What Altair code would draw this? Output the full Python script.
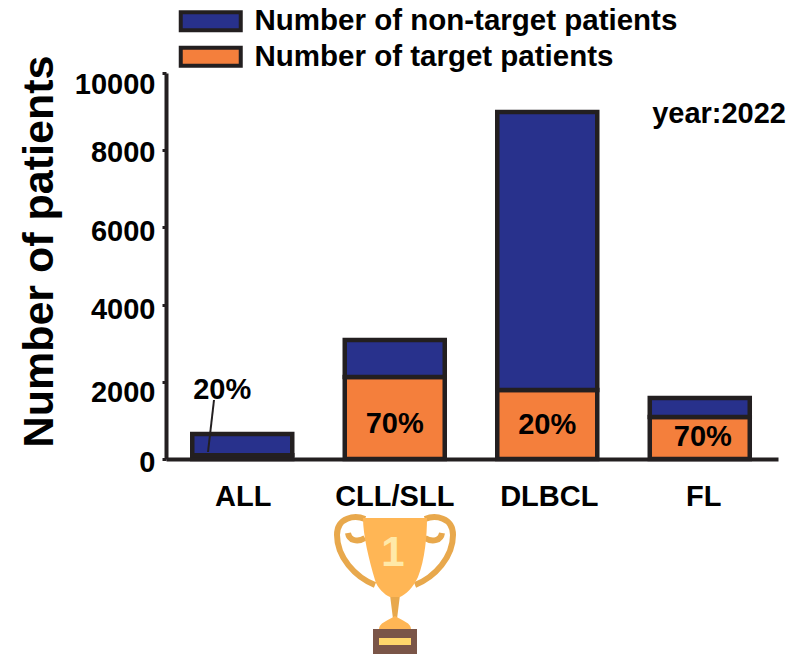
import altair as alt
import pandas as pd

diseases = ["ALL", "CLL/SLL", "DLBCL", "FL"]
target = [100, 2125, 1790, 1090]
non_target = [548, 958, 7200, 490]
label_text = ["20%", "70%", "20%", "70%"]
label_y = [1788, 905, 885, 570]
label_dx = [-20, 0, 0, 3]
y_ticks = [0, 2000, 4000, 6000, 8000, 10000]
series = ["Number of non-target patients", "Number of target patients"]
colors = ["#28318C", "#F47F3C"]
INK = "#231F20"
FONT = "Liberation Sans"

rows = []
for i, d in enumerate(diseases):
    rows.append({"d": d, "s": series[1], "v": target[i], "o": 0})
    rows.append({"d": d, "s": series[0], "v": non_target[i], "o": 1})
bars_df = pd.DataFrame(rows)
labels_df = pd.DataFrame({"d": diseases, "t": label_text, "y": label_y, "dx": label_dx})

x_scale = alt.Scale(domain=diseases, paddingInner=0, paddingOuter=0.0065, align=0)
y_scale = alt.Scale(domain=[0, 10000], nice=False)

y_offset = alt.expr("datum.value==10000||datum.value==2000?11:datum.value==8000?2:datum.value==0?3:datum.value==6000?4:5")
x_offset = alt.expr("datum.value=='FL'?4:datum.value=='DLBCL'?2:datum.value=='ALL'?1:0")

bars = alt.Chart(bars_df).mark_bar(size=100, stroke=INK, strokeWidth=4.5).encode(
    x=alt.X("d:N", scale=x_scale, sort=diseases, title=None,
            axis=alt.Axis(labelAngle=0, labelFont=FONT, labelFontWeight="bold", labelFontSize=29,
                          labelColor="#000", labelPadding=23, ticks=False, domainWidth=4, domainColor=INK, grid=False,
                          labelOffset=x_offset)),
    y=alt.Y("v:Q", stack="zero", scale=y_scale, title="Number of patients",
            axis=alt.Axis(values=y_ticks, format="d", labelFont=FONT, labelFontWeight="bold",
                          labelFontSize=29, labelColor="#000", tickColor=INK, tickWidth=3, tickSize=4,
                          labelPadding=7, domainWidth=4, domainColor=INK, grid=False,
                          labelOffset=y_offset,
                          titleFont=FONT, titleFontWeight="bold", titleFontSize=43, titleColor="#000",
                          titleX=-114, titleY=178, titleBaseline="alphabetic")),
    color=alt.Color("s:N", scale=alt.Scale(domain=series, range=colors),
                    legend=alt.Legend(title=None, orient="none", legendX=30, legendY=-66.5, padding=0,
                                      symbolType="M-30,-9 H30 V9 H-30Z", symbolSize=4,
                                      symbolStrokeColor=INK, symbolStrokeWidth=4, symbolOpacity=1,
                                      labelFont=FONT, labelFontWeight="bold", labelFontSize=29.5, labelColor="#000",
                                      labelOffset=29, labelLimit=600, rowPadding=0.5)),
    order=alt.Order("o:Q"),
)

label_layers = [
    alt.Chart(labels_df[labels_df.d == d]).mark_text(font=FONT, fontWeight="bold", fontSize=29, color="#000", dx=dx).encode(
        x=alt.X("d:N", scale=x_scale, sort=diseases), y=alt.Y("y:Q", scale=y_scale), text="t:N")
    for d, dx in zip(diseases, label_dx)
]

leader = alt.Chart(pd.DataFrame({"a": [0]})).mark_rule(color=INK, strokeWidth=2).encode(
    x=alt.value(48), x2=alt.value(42), y=alt.value(327), y2=alt.value(379))

year = alt.Chart(pd.DataFrame({"t": ["year:2022"]})).mark_text(
    font=FONT, fontWeight="bold", fontSize=29, color="#000", align="right").encode(
    x=alt.value(620), y=alt.value(41), text="t:N")

CUP = "M-32,-67 L32,-67 C32,-50 30,-25 23,-8 C18,3 10,10 5,12 L-5,12 C-10,10 -18,3 -20,-5 C-26,-25 -32,-50 -32,-67Z"
HANDLES = ("M30,-66 C40,-70 58,-68 58,-50 C58,-28 40,-8 20,0 "
           "M47,-52 C46,-45 38,-42 30,-47 "
           "M-30,-66 C-40,-70 -58,-68 -58,-50 C-58,-28 -40,-8 -20,0 "
           "M-47,-52 C-46,-45 -38,-42 -30,-47")
STEM = "M-5,10 L5,10 L2,34 L-2,34Z"
DOME = "M-16,44 C-16,38 -8,36 0,31 C8,36 16,38 16,44Z"
BOX = "M-22,44 H22 V72 H-22Z"
PLATE = "M-16,53 H16 V60 H-16Z"
TX, TY = 229, 512
one = alt.Chart(pd.DataFrame({"a": [0]}))

def piece(path, fill=None, stroke=None, sw=0):
    kw = dict(shape=path, size=4, opacity=1)
    if fill:
        kw.update(filled=True, fill=fill, strokeWidth=0)
    else:
        kw.update(filled=False, stroke=stroke, strokeWidth=sw)
    return one.mark_point(**kw).encode(x=alt.value(TX), y=alt.value(TY))

trophy = [
    piece(HANDLES, stroke="#E8A84C", sw=6),
    piece(STEM, fill="#E8A84C"),
    piece(CUP, fill="#FFB655"),
    piece(DOME, fill="#FFB655"),
    piece(BOX, fill="#7A5548"),
    piece(PLATE, fill="#FFD66B"),
]
digit = one.mark_text(font=FONT, fontWeight="bold", fontSize=42, color="#FFE9A8").encode(
    x=alt.value(227), y=alt.value(480), text=alt.value("1"))

chart = alt.layer(bars, *label_layers, leader, year, *trophy, digit).properties(
    width=612, height=386,
    padding={"left": 158, "top": 65, "right": 16, "bottom": 195},
    autosize=alt.AutoSizeParams(type="none"),
    background="white",
).configure_view(stroke=None)

chart.save("out.html", embed_options={"renderer": "svg", "actions": False})
